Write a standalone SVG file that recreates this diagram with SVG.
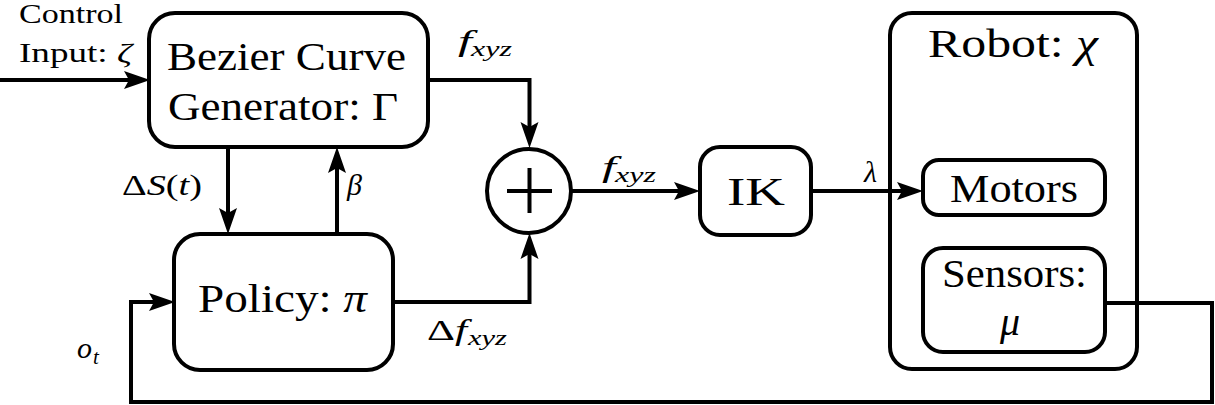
<svg xmlns="http://www.w3.org/2000/svg" width="1215" height="405" viewBox="0 0 1215 405">
<style>
.box{fill:#fff;stroke:#000;stroke-width:4}
.ln{fill:none;stroke:#000;stroke-width:4}
.t{font-family:"Liberation Serif","Times New Roman",serif;fill:#000}
.big{font-size:40px}
.lab{font-size:30px}
.sm{font-size:28px}
.sub{font-size:21px;font-style:italic}
.it{font-style:italic}
</style>
<defs>
<marker id="ah" markerUnits="userSpaceOnUse" viewBox="0 0 26 20" markerWidth="26" markerHeight="20" refX="16" refY="10" orient="auto">
<path d="M0,1 L26,10 L0,19 L5,10 Z" fill="#000"/>
</marker>
</defs>
<rect width="1215" height="405" fill="#fff"/>

<g id="robot">
<rect class="box" x="890" y="13" width="247" height="356" rx="22"/>
<text class="t big" x="928" y="57" textLength="170" lengthAdjust="spacingAndGlyphs">Robot: <tspan class="it">χ</tspan></text>
</g>
<g id="motors">
<rect class="box" x="923" y="160" width="182" height="55" rx="16"/>
<text class="t big" x="950" y="202" textLength="128" lengthAdjust="spacingAndGlyphs">Motors</text>
</g>
<g id="sensors">
<rect class="box" x="923" y="248" width="182" height="104" rx="20"/>
<text class="t big" x="942" y="287" textLength="145" lengthAdjust="spacingAndGlyphs">Sensors:</text>
<text class="t big it" x="1010" y="335" text-anchor="middle">μ</text>
</g>

<g id="bezier">
<rect class="box" x="149" y="13" width="279" height="134" rx="26"/>
<text class="t big" x="167" y="70" textLength="239" lengthAdjust="spacingAndGlyphs">Bezier Curve</text>
<text class="t big" x="168" y="120" textLength="230" lengthAdjust="spacingAndGlyphs">Generator: Γ</text>
</g>
<g id="policy">
<rect class="box" x="174" y="234" width="219" height="136" rx="26"/>
<text class="t big" x="198" y="312" textLength="169" lengthAdjust="spacingAndGlyphs">Policy: <tspan class="it">π</tspan></text>
</g>
<g id="sum">
<circle class="box" cx="529" cy="191" r="42"/>
<path class="ln" d="M507,191 H552 M529.5,168 V213"/>
</g>
<g id="ik">
<rect class="box" x="700" y="147" width="111" height="88" rx="20"/>
<text class="t big" x="756" y="205" text-anchor="middle" textLength="58" lengthAdjust="spacingAndGlyphs">IK</text>
</g>

<g id="connectors">
<path class="ln" d="M0,80 H140" marker-end="url(#ah)"/>
<path class="ln" d="M428,80 H529.5 V138" marker-end="url(#ah)"/>
<path class="ln" d="M228,147 V224" marker-end="url(#ah)"/>
<path class="ln" d="M337,234 V157" marker-end="url(#ah)"/>
<path class="ln" d="M393,302 H529.5 V243" marker-end="url(#ah)"/>
<path class="ln" d="M571,191 H690" marker-end="url(#ah)"/>
<path class="ln" d="M811,191 H913" marker-end="url(#ah)"/>
<path class="ln" d="M1105,303 H1212 V402 H131 V302 H165" marker-end="url(#ah)"/>
</g>

<g id="labels">
<text class="t sm" x="19" y="23" textLength="104" lengthAdjust="spacingAndGlyphs">Control</text>
<text class="t sm" x="19" y="62" textLength="113" lengthAdjust="spacingAndGlyphs">Input: <tspan class="it">ζ</tspan></text>
<text class="t lab" x="122" y="195" textLength="80" lengthAdjust="spacingAndGlyphs">Δ<tspan class="it">S</tspan>(<tspan class="it">t</tspan>)</text>
<text class="t lab it" x="347" y="195">β</text>
<text class="t lab it" x="458" y="51" textLength="14" lengthAdjust="spacingAndGlyphs">f</text>
<text class="t sub" x="471" y="56" textLength="41" lengthAdjust="spacingAndGlyphs">xyz</text>
<text class="t lab it" x="602" y="177" textLength="14" lengthAdjust="spacingAndGlyphs">f</text>
<text class="t sub" x="615" y="182" textLength="41" lengthAdjust="spacingAndGlyphs">xyz</text>
<text class="t lab" x="427" y="340" textLength="40" lengthAdjust="spacingAndGlyphs">Δ<tspan class="it">f</tspan></text>
<text class="t sub" x="468" y="345" textLength="39" lengthAdjust="spacingAndGlyphs">xyz</text>
<text class="t lab it" x="864" y="182">λ</text>
<text class="t lab it" x="77" y="358">o</text>
<text class="t sub" x="93" y="364">t</text>
</g>
</svg>
